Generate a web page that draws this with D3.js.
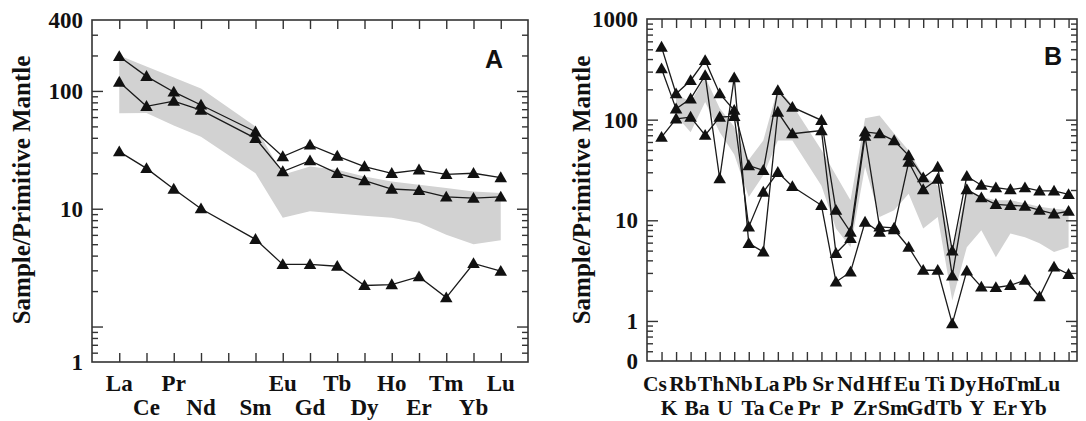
<!DOCTYPE html>
<html>
<head>
<meta charset="utf-8">
<script src="https://cdn.jsdelivr.net/npm/d3@7"></script>
<style>
  html, body { margin: 0; padding: 0; background: #fff; }
  svg text { font-family: "Liberation Serif", "Times New Roman", serif; font-weight: bold; fill: #111; }
</style>
</head>
<body>
<svg id="chart" width="1086" height="421"></svg>
<script>
// ---- Panel A: REE (Pm slot has no data) ----
const elementsA = ["La","Ce","Pr","Nd","Pm","Sm","Eu","Gd","Tb","Dy","Ho","Er","Tm","Yb","Lu"];
const labelsA   = ["La","Ce","Pr","Nd","","Sm","Eu","Gd","Tb","Dy","Ho","Er","Tm","Yb","Lu"];
const sample1A = [196, 133, 98, 76, null, 45, 27.7, 34.8, 28, 22.8, 20, 21.4, 19.6, 20, 18.4];
const sample2A = [119, 74, 82, 68.7, null, 39.6, 20.7, 25.6, 20, 17.3, 14.7, 14.3, 12.6, 12.3, 12.6];
const sample3A = [30.5, 22, 14.7, 10, null, 5.5, 3.37, 3.37, 3.25, 2.23, 2.27, 2.65, 1.76, 3.43, 2.95];
const bandUpperA = [200, 161, 130, 105, null, 50, 19.4, 22.8, 21.4, 18.8, 17, 16, 15, 14, 13.6];
const bandLowerA = [64.6, 65, 51, 40.8, null, 20, 8.4, 9.5, 9.1, 8.7, 8.4, 7.6, 6.0, 5.0, 5.4];
const yLabelValuesA = [0.5, 10, 100, 400];
const yLabelTextA   = ["1", "10", "100", "400"];

// ---- Panel B: spider diagram (Pb not analysed) ----
const elementsB = ["Cs","K","Rb","Ba","Th","U","Nb","Ta","La","Ce","Pb","Pr","Sr","P","Nd","Zr","Hf","Sm","Eu","Gd","Ti","Tb","Dy","Y","Ho","Er","Tm","Yb","Lu"];
const sample1B = [526, 181, 245, 388, 181, 124, 35, 31.4, 195, 133, null, 98.5, 12.6, 7.65, 75.5, 72.5, 62, 44, 26.5, 33.8, 4.96, 27.4, 22.3, 21.1, 20.2, 21.1, 19.6, 19.6, 18.1];
const sample2B = [321, 128, 161, 275, 26, 261, 5.9, 4.86, 119, 72.5, null, 78, 4.7, 6.6, 68.5, 8.6, 8.4, 37.9, 20.2, 25.7, 2.8, 20.2, 16.8, 14.4, 14.1, 13.8, 12.6, 11.6, 12.3];
const sample3B = [67, 102, 106, 70, 106, 108, 8.6, 19.1, 30, 21.7, null, 14.1, 2.44, 3.07, 9.6, 7.65, 8.1, 5.4, 3.19, 3.19, 0.94, 3.14, 2.18, 2.15, 2.26, 2.54, 1.74, 3.44, 2.91];
const bandUpperB = [null, 180, 150, 265, 130, 85, 40, 62, 205, 140, null, 50, 28, 15.8, 103, 110, 73, 49.5, 28, 22, 5, 19.9, 17, 15.8, 15.8, 14.8, 13.6, 13, 12.6];
const bandLowerB = [null, 110, 75, 150, 75, 45, 17, 28, 62, 62, null, 22, 8.3, 5.4, 34, 10.8, 12.6, 18.4, 8.3, 10.8, 1.6, 5.4, 7.95, 4.3, 7.4, 6.8, 5.9, 4.85, 5.4];
const yLabelValuesB = [0.4, 1, 10, 100, 1000];
const yLabelTextB   = ["0", "1", "10", "100", "1000"];

const svg = d3.select("#chart");

function minorTicks(lo, hi) {
  const out = [];
  for (let e = -1; e <= 3; e++) {
    for (let m = 2; m <= 9; m++) {
      const v = m * Math.pow(10, e);
      if (v > lo * 1.001 && v < hi * 0.999) out.push(v);
    }
  }
  return out;
}

function drawPanel(cfg) {
  const { x, y, elements, labels, series, upper, lower, yVals, yText, labelX, labelSize, letter, letterPos, titleX } = cfg;
  const [x0, x1] = x.range();
  const [yb, yt] = y.range();
  const g = svg.append("g");

  // grey envelope
  const bandPts = elements.map((e, i) => ({ i, hi: upper[i], lo: lower[i] }))
    .filter(d => d.hi != null && d.lo != null);
  g.append("path")
    .datum(bandPts)
    .attr("fill", "#d2d2d2")
    .attr("d", d3.area().x(d => x(d.i)).y0(d => y(d.lo)).y1(d => y(d.hi)));

  // frame
  g.append("rect")
    .attr("x", x0).attr("y", yt)
    .attr("width", x1 - x0).attr("height", yb - yt)
    .attr("fill", "none").attr("stroke", "#333").attr("stroke-width", 1.6);

  const idx = d3.range(elements.length);
  const majors = [1, 10, 100].filter(v => v > y.domain()[0] && v < y.domain()[1]);
  const minors = minorTicks(y.domain()[0], y.domain()[1]);

  const tickAxis = (axis, tx, ty) => {
    const a = g.append("g").attr("transform", `translate(${tx},${ty})`).call(axis);
    a.select(".domain").remove();
    a.selectAll("line").attr("stroke", "#333").attr("stroke-width", 1.4);
    a.selectAll("text").remove();
  };
  // x ticks, inward top and bottom
  tickAxis(d3.axisTop(x).tickValues(idx).tickSizeInner(-9).tickSizeOuter(0), 0, yt);
  tickAxis(d3.axisBottom(x).tickValues(idx).tickSizeInner(-9).tickSizeOuter(0), 0, yb);
  // y ticks, inward left and right
  tickAxis(d3.axisLeft(y).tickValues(majors).tickSizeInner(-11).tickSizeOuter(0), x0, 0);
  tickAxis(d3.axisLeft(y).tickValues(minors).tickSizeInner(-6).tickSizeOuter(0), x0, 0);
  tickAxis(d3.axisRight(y).tickValues(majors).tickSizeInner(-11).tickSizeOuter(0), x1, 0);
  tickAxis(d3.axisRight(y).tickValues(minors).tickSizeInner(-6).tickSizeOuter(0), x1, 0);

  // y labels
  const yl = g.append("g").attr("transform", `translate(${x0},0)`)
    .call(d3.axisLeft(y).tickValues(yVals).tickFormat((d, i) => yText[i]).tickSize(0).tickPadding(9));
  yl.select(".domain").remove();
  yl.selectAll("text").attr("font-size", 23).attr("fill", "#111")
    .style("font-family", "'Liberation Serif', 'Times New Roman', serif").style("font-weight", "bold");

  // element labels, two staggered rows
  g.selectAll(".el-label")
    .data(labels.map((t, i) => ({ t, i })).filter(d => d.t))
    .enter().append("text")
    .attr("class", "el-label")
    .attr("x", d => labelX(d.i))
    .attr("y", d => d.i % 2 === 0 ? 391 : 415)
    .attr("text-anchor", "middle")
    .attr("font-size", labelSize)
    .text(d => d.t);

  // y title
  g.append("text")
    .attr("transform", `translate(${titleX},190) rotate(-90)`)
    .attr("text-anchor", "middle")
    .attr("font-size", 25)
    .text("Sample/Primitive Mantle");

  // sample lines and triangles
  const line = d3.line().x(d => x(d.i)).y(d => y(d.v));
  series.forEach(vals => {
    const pts = vals.map((v, i) => ({ i, v })).filter(d => d.v != null);
    g.append("path").datum(pts)
      .attr("fill", "none").attr("stroke", "#1a1a1a").attr("stroke-width", 1.3)
      .attr("d", line);
    g.selectAll(null).data(pts).enter().append("path")
      .attr("transform", d => `translate(${x(d.i)},${y(d.v) + 1})`)
      .attr("d", d3.symbol().type(d3.symbolTriangle).size(68))
      .attr("fill", "#111");
  });

  // panel letter
  g.append("text")
    .attr("x", letterPos[0]).attr("y", letterPos[1])
    .attr("text-anchor", "middle")
    .attr("font-size", 25)
    .style("font-family", "'Liberation Sans', Arial, sans-serif")
    .text(letter);
}

const xA = d3.scaleLinear().domain([-1, 15]).range([92, 528]);
const yA = d3.scaleLog().domain([0.5, 400]).range([362, 20]);
drawPanel({
  x: xA, y: yA, elements: elementsA, labels: labelsA,
  series: [sample1A, sample2A, sample3A], upper: bandUpperA, lower: bandLowerA,
  yVals: yLabelValuesA, yText: yLabelTextA, labelX: xA, labelSize: 23,
  letter: "A", letterPos: [494, 68], titleX: 30
});

const xB = d3.scaleLinear().domain([-1, 28.58]).range([647, 1077]);
const yB = d3.scaleLog().domain([0.4, 1000]).range([361, 19]);
const xLabelB = d3.scaleLinear().domain([0, 28]).range([655, 1047]);
drawPanel({
  x: xB, y: yB, elements: elementsB, labels: elementsB,
  series: [sample1B, sample2B, sample3B], upper: bandUpperB, lower: bandLowerB,
  yVals: yLabelValuesB, yText: yLabelTextB, labelX: xLabelB, labelSize: 21.5,
  letter: "B", letterPos: [1053, 65], titleX: 590
});
</script>
</body>
</html>
